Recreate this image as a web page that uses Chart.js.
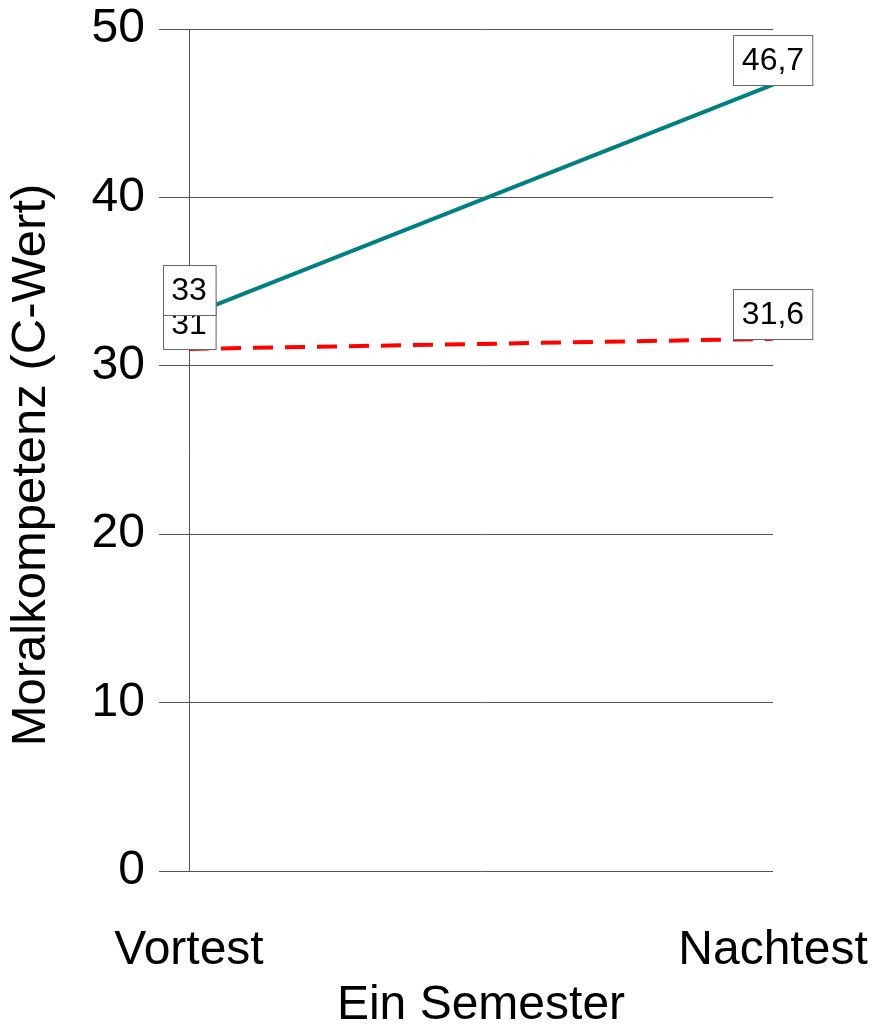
<!DOCTYPE html>
<html lang="de">
<head>
<meta charset="utf-8">
<title>Moralkompetenz</title>
<script src="https://cdn.jsdelivr.net/npm/chart.js@4/dist/chart.umd.min.js"></script>
<style>
    html, body { margin: 0; padding: 0; background: #fff; }
    #wrap { width: 877px; height: 1030px; position: relative; }
</style>
</head>
<body>
<div id="wrap"><canvas id="chart"></canvas></div>
<script>
// Data
const categories = ['Vortest', 'Nachtest'];
const groupA = [33, 46.7];     // solid teal line
const groupB = [31, 31.6];     // dashed red line
const yTicks = [0, 10, 20, 30, 40, 50];
const yTitle = 'Moralkompetenz (C-Wert)';

const FONT = "'Liberation Sans', Arial, Helvetica, sans-serif";
const GRID = '#555';

// Boxed value labels (drawn red first, so the teal box sits on top)
const boxLabels = {
    id: 'boxLabels',
    afterDatasetsDraw(chart) {
        const ctx = chart.ctx;
        ctx.save();
        ctx.font = '32px ' + FONT;
        ctx.textAlign = 'center';
        ctx.textBaseline = 'middle';
        [1, 0].forEach(di => {
            const meta = chart.getDatasetMeta(di);
            meta.data.forEach((pt, i) => {
                const txt = chart.data.datasets[di].data[i].toLocaleString('de-DE');
                const w = ctx.measureText(txt).width + 17;
                const h = 50;
                const x = Math.round(pt.x - w / 2) + 0.5;
                const y = Math.round(pt.y - h) + 0.5;
                ctx.fillStyle = '#fff';
                ctx.fillRect(x, y, w, h);
                ctx.strokeStyle = '#666';
                ctx.lineWidth = 1;
                ctx.strokeRect(x, y, w, h);
                ctx.fillStyle = '#000';
                ctx.fillText(txt, pt.x, y + h / 2 + 1);
            });
        });
        ctx.restore();
    }
};

// Y axis title, sits a little below the middle of the plot like the original
const sideTitle = {
    id: 'sideTitle',
    afterDraw(chart) {
        const ctx = chart.ctx;
        const area = chart.chartArea;
        ctx.save();
        ctx.translate(31, (area.top + area.bottom) / 2 + 15);
        ctx.rotate(-Math.PI / 2);
        ctx.font = '49px ' + FONT;
        ctx.fillStyle = '#000';
        ctx.textAlign = 'center';
        ctx.textBaseline = 'middle';
        ctx.fillText(yTitle, 0, 0);
        ctx.restore();
    }
};

new Chart(document.getElementById('chart'), {
    type: 'line',
    data: {
        labels: categories,
        datasets: [{
            data: groupA,
            borderColor: '#008080',
            borderWidth: 4,
            pointRadius: 0,
            tension: 0
        }, {
            data: groupB,
            borderColor: '#ff0000',
            borderWidth: 4,
            borderDash: [20, 12],
            pointRadius: 0,
            tension: 0
        }]
    },
    options: {
        responsive: true,
        maintainAspectRatio: false,
        animation: false,
        layout: { padding: { top: 29, right: 104, bottom: 0, left: 0 } },
        plugins: {
            legend: { display: false },
            tooltip: { enabled: false }
        },
        scales: {
            x: {
                offset: false,
                afterFit: s => { s.height = 159; },
                grid: { display: false },
                border: { display: false },
                ticks: {
                    color: '#000',
                    // tall line box pushes the labels down without extra side padding
                    font: { family: FONT, size: 48, lineHeight: 3.0 },
                    padding: 0,
                    maxRotation: 0,
                    autoSkip: false
                },
                title: {
                    display: true,
                    text: 'Ein Semester',
                    color: '#000',
                    font: { family: FONT, size: 48, lineHeight: 1.0 },
                    padding: { top: 0, bottom: 0 }
                }
            },
            y: {
                min: yTicks[0],
                max: yTicks[yTicks.length - 1],
                afterFit: s => { s.width = 189; },
                afterBuildTicks: s => { s.ticks = yTicks.map(v => ({ value: v })); },
                grid: { color: GRID, lineWidth: 1, tickLength: 30, tickColor: GRID },
                border: { display: true, color: GRID, width: 1 },
                ticks: {
                    color: '#000',
                    font: { family: FONT, size: 48, lineHeight: 0.6 },
                    padding: 14
                },
                title: { display: false }
            }
        }
    },
    plugins: [boxLabels, sideTitle]
});
</script>
</body>
</html>
